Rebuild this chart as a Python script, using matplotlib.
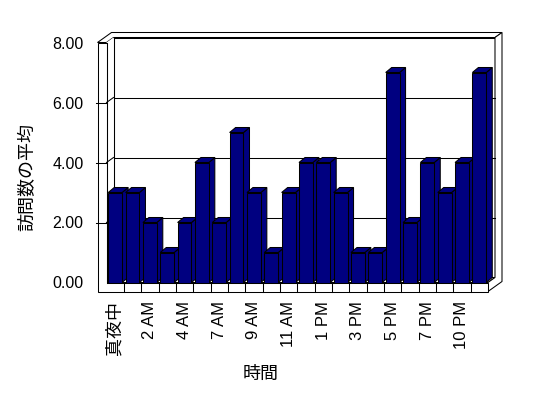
import matplotlib
matplotlib.use('Agg')
import matplotlib.pyplot as plt
from matplotlib.patches import Polygon
import numpy as np

# ---- data ----
categories = ['真夜中', '1 AM', '2 AM', '3 AM', '4 AM', '5 AM', '7 AM', '8 AM', '9 AM',
              '10 AM', '11 AM', '12 PM', '1 PM', '2 PM', '3 PM', '4 PM', '5 PM', '6 PM',
              '7 PM', '8 PM', '10 PM', '11 PM']
values = [3, 3, 2, 1, 2, 4, 2, 5, 3, 1, 3, 4, 4, 3, 1, 1, 7, 2, 4, 3, 4, 7]
y_ticks = [0, 2, 4, 6, 8]
y_tick_labels = ['0.00', '2.00', '4.00', '6.00', '8.00']
x_title = '時間'
y_title = '訪問数の平均'

plt.rcParams['font.family'] = ['Liberation Sans', 'Noto Sans CJK JP']

W, H, DPI = 548, 398, 100
fig = plt.figure(figsize=(W / DPI, H / DPI), dpi=DPI)
L, R, B, T = 106.5, 488.0, 282.5, 42.5   # front plot frame in pixels (from top)
ax = fig.add_axes([L / W, (H - B) / H, (R - L) / W, (B - T) / H])
n = len(categories)
ymax = y_ticks[-1]
ax.set_xlim(0, n)
ax.set_ylim(0, ymax)
for s in ax.spines.values():
    s.set_visible(False)
ax.patch.set_visible(False)

sx = n / (R - L)
sy = ymax / (B - T)


def off(x, y, px=0.0, py=0.0):
    return (x + px * sx, y + py * sy)


DX, DY = 7, 5       # plot depth (px)
TW, TF = 9, 9       # wall / floor thickness (px)
BDX, BDY = 6, 5     # bar depth (px)
lw = 0.75
navy = '#000080'


def poly(pts, z, fc='white'):
    p = Polygon(pts, closed=True, facecolor=fc, edgecolor='black', linewidth=lw,
                zorder=z, clip_on=False, joinstyle='miter')
    ax.add_patch(p)


def seg(a, b, z=1.5):
    ax.plot([a[0], b[0]], [a[1], b[1]], color='black', lw=lw, zorder=z, clip_on=False)


# back wall front face
poly([off(0, 0, DX, DY), off(n, 0, DX, DY), off(n, ymax, DX, DY), off(0, ymax, DX, DY)], 1)
# floor top face
poly([off(0, 0), off(n, 0), off(n, 0, DX, DY), off(0, 0, DX, DY)], 1)
# left wall inner face (white, edges drawn separately)
ax.add_patch(Polygon([off(0, 0), off(0, ymax), off(0, ymax, DX, DY), off(0, 0, DX, DY)],
                     closed=True, facecolor='white', edgecolor='none', zorder=1.1, clip_on=False))
seg(off(0, 0), off(0, ymax))
seg(off(0, 0, DX, DY), off(0, ymax, DX, DY))
# top of walls
poly([off(0, ymax, -TW, 0), off(0, ymax), off(0, ymax, DX, DY), off(n, ymax, DX, DY),
      off(n, ymax, 2 * DX, 2 * DY), off(0, ymax, -TW + 2 * DX, 2 * DY)], 1)
# left wall + floor front face (L shape)
poly([off(0, ymax, -TW, 0), off(0, ymax), off(0, 0), off(n, 0), off(n, 0, 0, -TF),
      off(0, 0, -TW, -TF)], 1.2)
# right side of back wall + floor
poly([off(n, 0, 0, -TF), off(n, 0), off(n, 0, DX, DY), off(n, ymax, DX, DY),
      off(n, ymax, 2 * DX, 2 * DY), off(n, 0, 2 * DX, 2 * DY - TF)], 1)

# gridlines on back wall and left wall, ticks on wall front
for v in y_ticks[1:-1]:
    seg(off(0, v, DX, DY), off(n, v, DX, DY))
    seg(off(0, v), off(0, v, DX, DY))
    seg(off(0, v, -TW - 1.5, 0), off(0, v))

# floor front cell dividers
for i in range(1, n):
    seg(off(i, 0), off(i, 0, 0, -TF))

# bars
w = 0.8
x = np.arange(n) + 0.5
bars = ax.bar(x, values, width=w, color=navy, edgecolor='black', linewidth=lw, zorder=3)
for i, (xc, v) in enumerate(zip(x, values)):
    x0, x1 = xc - w / 2, xc + w / 2
    poly([off(x1, 0), off(x1, v), off(x1, v, BDX, BDY), off(x1, 0, BDX, BDY)], 2 + i * 0.01, navy)
    poly([off(x0, v), off(x1, v), off(x1, v, BDX, BDY), off(x0, v, BDX, BDY)], 2 + i * 0.01, navy)

# ticks & labels
ax.set_yticks(y_ticks, y_tick_labels)
ax.tick_params(axis='y', length=0, pad=16.5, labelsize=11.5)
ax.set_xticks(x[::2], categories[::2], rotation=90)
ax.tick_params(axis='x', length=0, pad=13.5, labelsize=12)
ax.get_xticklabels()[0].set_fontsize(13)

ax.set_xlabel(x_title, fontsize=13)
ax.xaxis.label.set_va('center')
ax.xaxis.set_label_coords(0.404, -0.384)
ax.set_ylabel(y_title, fontsize=13)
ax.yaxis.label.set_va('center')
ax.yaxis.set_label_coords(-0.206, 0.438)

fig.savefig('out.png', dpi=DPI)
